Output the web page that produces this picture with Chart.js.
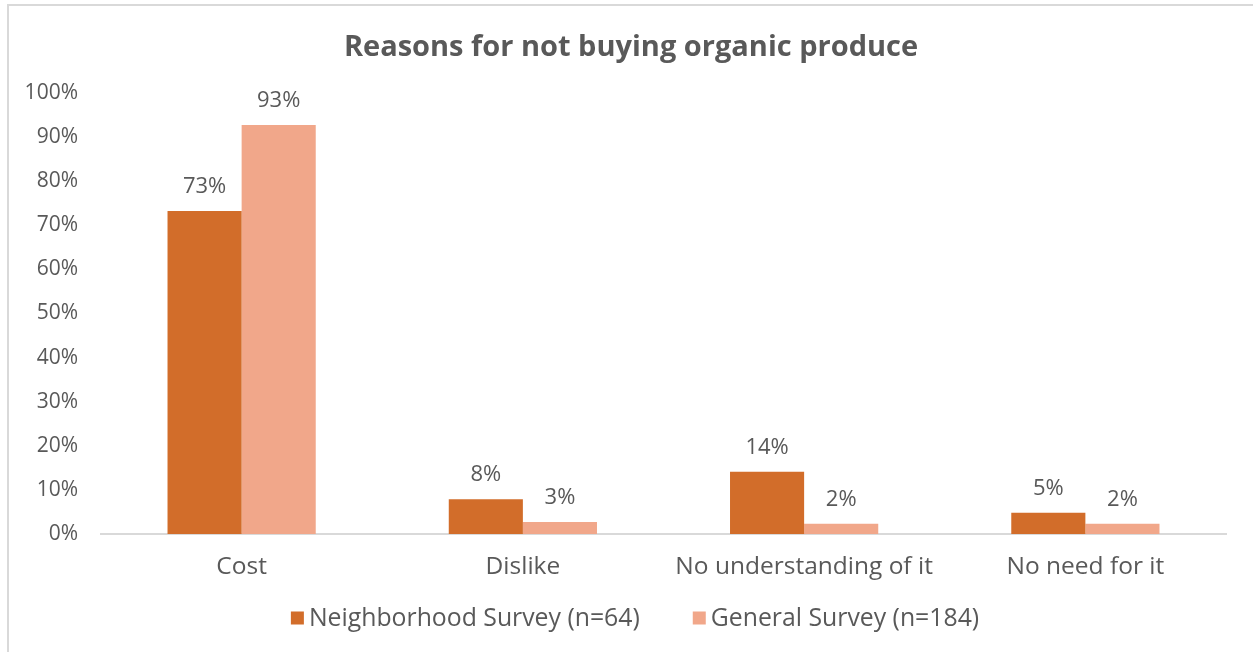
<!DOCTYPE html>
<html>
<head>
<meta charset="utf-8">
<script src="https://cdn.jsdelivr.net/npm/chart.js@4"></script>
<style>
  html, body { margin: 0; padding: 0; background: #fff; }
  body { width: 1253px; height: 652px; overflow: hidden; position: relative; }
  #wrap { position: absolute; left: 7px; top: 4px; width: 1244px; height: 646px;
          border-left: 2px solid #d9d9d9; border-top: 2px solid #d9d9d9; background: #fff; }
  canvas { display: block; }
</style>
</head>
<body>
<div id="wrap"><canvas id="c" width="1244" height="646"></canvas></div>
<script>
const categories = ["Cost", "Dislike", "No understanding of it", "No need for it"];
const seriesNames = ["Neighborhood Survey (n=64)", "General Survey (n=184)"];
const neighborhood = [73.2, 7.9, 14.1, 4.8];
const general = [92.7, 2.7, 2.3, 2.3];
const yTicks = [0, 10, 20, 30, 40, 50, 60, 70, 80, 90, 100];
const colors = ["#D26D2A", "#F1A78A"];

const FONT = "'Open Sans', 'DejaVu Sans', sans-serif";
const TEXT = "#595959";

const valueLabels = {
  id: 'valueLabels',
  afterDatasetsDraw(chart) {
    const ctx = chart.ctx;
    ctx.save();
    ctx.font = "22px " + FONT;
    ctx.fillStyle = TEXT;
    ctx.textAlign = 'center';
    ctx.textBaseline = 'middle';
    chart.data.datasets.forEach((ds, di) => {
      const meta = chart.getDatasetMeta(di);
      meta.data.forEach((bar, i) => {
        ctx.fillText(Math.round(ds.data[i]) + '%', bar.x, bar.y - 24);
      });
    });
    ctx.restore();
  }
};

const centerTitle = {
  id: 'centerTitle',
  afterLayout(chart) {
    const t = chart.titleBlock;
    if (t) { t.left = 0; t.right = chart.width; t.width = chart.width; }
  }
};

const customLegend = {
  id: 'customLegend',
  afterDraw(chart) {
    const ctx = chart.ctx;
    ctx.save();
    ctx.font = "24.8px " + FONT;
    ctx.textBaseline = 'middle';
    ctx.textAlign = 'left';
    const box = 13, gapText = 5, gapItem = 53;
    const ds = chart.data.datasets;
    const widths = ds.map(d => ctx.measureText(d.label).width);
    let total = 0;
    widths.forEach((w, i) => { total += box + gapText + w + (i < widths.length - 1 ? gapItem : 0); });
    let x = chart.width / 2 + 4 - total / 2;
    const y = 612;
    ds.forEach((d, i) => {
      ctx.fillStyle = d.backgroundColor;
      ctx.fillRect(x, y - box / 2, box, box);
      x += box + gapText;
      ctx.fillStyle = TEXT;
      ctx.fillText(d.label, x, y + 1);
      x += widths[i] + gapItem;
    });
    ctx.restore();
  }
};

new Chart(document.getElementById('c'), {
  type: 'bar',
  data: {
    labels: categories,
    datasets: [
      { label: seriesNames[0], data: neighborhood, backgroundColor: colors[0] },
      { label: seriesNames[1], data: general, backgroundColor: colors[1] }
    ]
  },
  options: {
    responsive: false,
    animation: false,
    devicePixelRatio: 1,
    layout: { padding: { top: 0, right: 27, bottom: 58, left: 0 } },
    datasets: { bar: { categoryPercentage: 0.527, barPercentage: 1.0, borderWidth: 0 } },
    plugins: {
      legend: { display: false },
      tooltip: { enabled: false },
      title: {
        display: true,
        text: "Reasons for not buying organic produce",
        color: TEXT,
        font: { family: FONT, size: 29, weight: 'bold' },
        padding: { top: 24, bottom: 28 }
      }
    },
    scales: {
      x: {
        grid: { display: false, drawTicks: false },
        border: { display: true, color: '#d9d9d9', width: 2 },
        ticks: { color: TEXT, font: { family: FONT, size: 24.5 }, padding: 18, maxRotation: 0 },
        afterFit(s) { s.height = 60; }
      },
      y: {
        min: 0, max: 100,
        afterBuildTicks(s) { s.ticks = yTicks.map(v => ({ value: v })); },
        grid: { display: false, drawTicks: false },
        border: { display: false },
        ticks: { color: TEXT, font: { family: FONT, size: 21 }, padding: 23,
                 callback: v => v + '%' },
        afterFit(s) { s.width = 92; }
      }
    }
  },
  plugins: [centerTitle, valueLabels, customLegend]
});
</script>
</body>
</html>
